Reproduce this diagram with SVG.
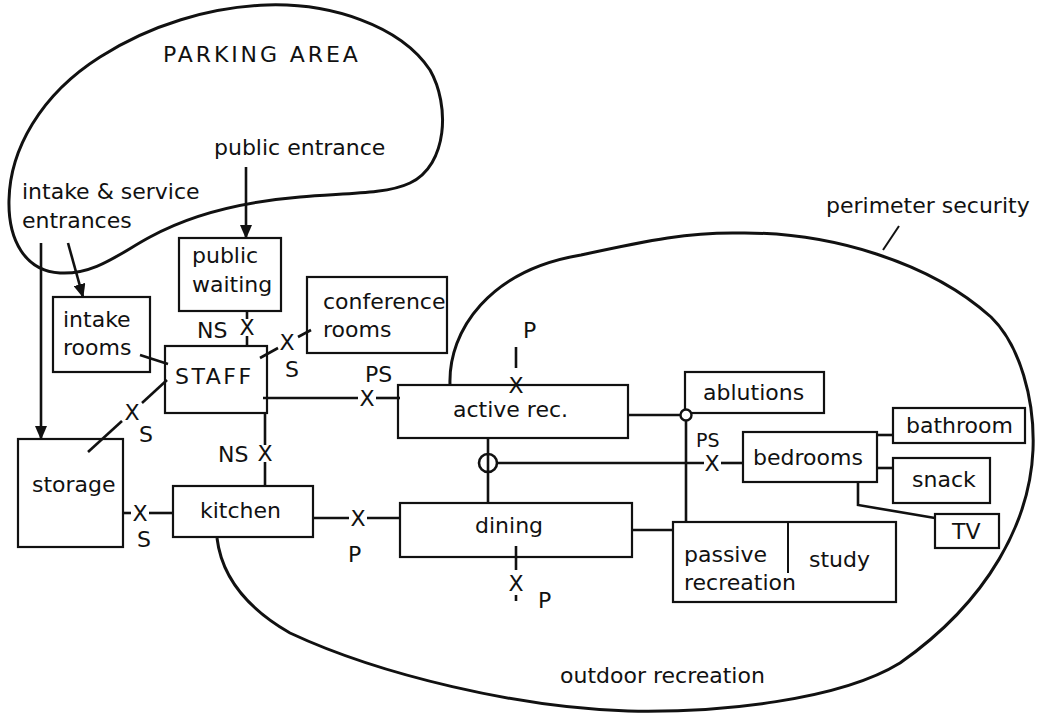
<svg xmlns="http://www.w3.org/2000/svg" width="1037" height="715" viewBox="0 0 1037 715">
<style>
  text { font-family: "DejaVu Sans", "Liberation Sans", sans-serif; font-size: 22px; fill: #111; }
  .box { fill: #fff; stroke: #111; stroke-width: 2.2; }
  .zone { fill: none; stroke: #111; stroke-width: 3; }
  .ln { fill: none; stroke: #111; stroke-width: 2.6; }
  .thin { fill: none; stroke: #111; stroke-width: 2; }
  .x { font-size: 22px; text-anchor: middle; }
  .lbl { font-size: 22px; }
  .sm { font-size: 19px; }
</style>
<defs>
  <marker id="arr" markerUnits="userSpaceOnUse" markerWidth="14" markerHeight="12" refX="13" refY="6" orient="auto">
    <path d="M0,0 L14,6 L0,12 Z" fill="#111"/>
  </marker>
</defs>
<rect width="1037" height="715" fill="#fff"/>

<g id="zones">
  <path id="parking-area" class="zone" d="M267,5 C330,3 400,25 430,70 C450,105 448,165 410,183 C385,195 340,193 300,197 C240,202 190,215 150,237 C120,253 95,275 60,273 C25,271 8,240 9,200 C10,150 40,95 100,57 C150,25 210,7 267,5 Z"/>
  <path id="perimeter" class="zone" d="M450,385 C448,330 490,270 581,255 C650,240 690,232 740,233 C830,232 930,262 991,317 C1020,345 1035,400 1033,450 C1030,520 990,600 900,663 C840,700 720,713 628,711 C520,708 380,675 290,633 C250,610 222,580 217,538"/>
  <line class="thin" x1="883" y1="250" x2="899" y2="226" stroke-width="2.4"/>
  <text x="163" y="62" font-size="21" letter-spacing="2.9">PARKING AREA</text>
  <text x="214" y="155">public entrance</text>
  <text x="22" y="199">intake &amp; service</text>
  <text x="22" y="228">entrances</text>
  <text x="826" y="213">perimeter security</text>
  <text x="560" y="683">outdoor recreation</text>
</g>

<g id="public-waiting"><rect class="box" x="179" y="238" width="102" height="73"/><text x="192" y="263">public</text><text x="192" y="292">waiting</text></g>
<g id="intake-rooms"><rect class="box" x="53" y="297" width="97" height="75"/><text x="63" y="327">intake</text><text x="63" y="355">rooms</text></g>
<g id="conference-rooms"><rect class="box" x="307" y="277" width="140" height="76"/><text x="323" y="309">conference</text><text x="323" y="337">rooms</text></g>
<g id="staff"><rect class="box" x="165" y="346" width="102" height="67"/><text x="175" y="384" font-size="23" letter-spacing="2.5">STAFF</text></g>
<g id="storage"><rect class="box" x="18" y="439" width="105" height="108"/><text x="32" y="492">storage</text></g>
<g id="kitchen"><rect class="box" x="173" y="486" width="140" height="51"/><text x="200" y="518">kitchen</text></g>
<g id="active-rec"><rect class="box" x="398" y="385" width="230" height="53"/><text x="453" y="417">active rec.</text></g>
<g id="dining"><rect class="box" x="400" y="503" width="232" height="54"/><text x="475" y="533">dining</text></g>
<g id="ablutions"><rect class="box" x="685" y="372" width="139" height="41"/><text x="703" y="400">ablutions</text></g>
<g id="bedrooms"><rect class="box" x="743" y="432" width="134" height="50"/><text x="753" y="465">bedrooms</text></g>
<g id="bathroom"><rect class="box" x="893" y="408" width="132" height="35"/><text x="906" y="433">bathroom</text></g>
<g id="snack"><rect class="box" x="893" y="458" width="97" height="45"/><text x="912" y="487">snack</text></g>
<g id="tv"><rect class="box" x="935" y="514" width="64" height="34"/><text x="952" y="539">TV</text></g>
<g id="passive-recreation-study"><rect class="box" x="673" y="522" width="223" height="80"/><line class="thin" x1="788" y1="522" x2="788" y2="573"/><text x="684" y="562">passive</text><text x="684" y="590">recreation</text><text x="809" y="567">study</text></g>

<g id="connectors">
  <!-- entrances -->
  <line class="ln" x1="246" y1="167" x2="246" y2="238" marker-end="url(#arr)"/>
  <line class="ln" x1="68" y1="243" x2="83" y2="297" marker-end="url(#arr)"/>
  <line class="ln" x1="41" y1="243" x2="41" y2="439" marker-end="url(#arr)"/>
  <!-- intake rooms to staff -->
  <line class="ln" x1="140" y1="355" x2="168" y2="364"/>
  <!-- public waiting to staff NS -->
  <line class="ln" x1="247" y1="311" x2="247" y2="319"/>
  <line class="ln" x1="247" y1="336" x2="247" y2="346"/>
  <text class="x" x="247" y="335">X</text>
  <text class="lbl" x="197" y="338">NS</text>
  <!-- staff to conference S -->
  <line class="ln" x1="260" y1="358" x2="278" y2="348"/>
  <line class="ln" x1="298" y1="337" x2="311" y2="330"/>
  <text class="x" x="287" y="350">X</text>
  <text class="lbl" x="285" y="377">S</text>
  <!-- staff to active rec PS -->
  <line class="ln" x1="263" y1="398" x2="358" y2="398"/>
  <line class="ln" x1="376" y1="398" x2="400" y2="398"/>
  <text class="x" x="367" y="406">X</text>
  <text class="lbl" x="365" y="382">PS</text>
  <!-- staff to storage S -->
  <line class="ln" x1="167" y1="380" x2="142" y2="403"/>
  <line class="ln" x1="122" y1="421" x2="88" y2="452"/>
  <text class="x" x="132" y="420">X</text>
  <text class="lbl" x="139" y="442">S</text>
  <!-- staff to kitchen NS -->
  <line class="ln" x1="265" y1="413" x2="265" y2="445"/>
  <line class="ln" x1="265" y1="462" x2="265" y2="486"/>
  <text class="x" x="265" y="461">X</text>
  <text class="lbl" x="218" y="462">NS</text>
  <!-- storage to kitchen S -->
  <line class="ln" x1="123" y1="513" x2="131" y2="513"/>
  <line class="ln" x1="149" y1="513" x2="174" y2="513"/>
  <text class="x" x="140" y="521">X</text>
  <text class="lbl" x="137" y="547">S</text>
  <!-- kitchen to dining P -->
  <line class="ln" x1="313" y1="518" x2="349" y2="518"/>
  <line class="ln" x1="367" y1="518" x2="401" y2="518"/>
  <text class="x" x="358" y="526">X</text>
  <text class="lbl" x="348" y="562">P</text>
  <!-- active rec top P -->
  <line class="ln" x1="516" y1="347" x2="516" y2="368"/>
  <text class="x" x="516" y="393">X</text>
  <text class="lbl" x="523" y="338">P</text>
  <!-- dining bottom P -->
  <line class="ln" x1="516" y1="546" x2="516" y2="570"/>
  <line class="ln" x1="516" y1="595" x2="516" y2="601"/>
  <text class="x" x="516" y="591">X</text>
  <text class="lbl" x="538" y="608">P</text>
  <!-- active rec to dining with circle -->
  <line class="ln" x1="488" y1="438" x2="488" y2="503"/>
  <circle cx="488" cy="463" r="9" fill="none" stroke="#111" stroke-width="2.6"/>
  <line class="ln" x1="497" y1="463" x2="704" y2="463"/>
  <line class="ln" x1="721" y1="463" x2="744" y2="463"/>
  <text class="x" x="712" y="471">X</text>
  <text class="sm" x="696" y="447">PS</text>
  <!-- active rec to ablutions / passive -->
  <line class="ln" x1="628" y1="415" x2="681" y2="415"/>
  <circle cx="686" cy="415" r="5.5" fill="#fff" stroke="#111" stroke-width="2.4"/>
  <line class="ln" x1="686" y1="420.5" x2="686" y2="522"/>
  <!-- dining to passive -->
  <line class="ln" x1="632" y1="530" x2="673" y2="530"/>
  <!-- bedrooms to services -->
  <line class="ln" x1="877" y1="435" x2="893" y2="435"/>
  <line class="ln" x1="877" y1="468" x2="893" y2="468"/>
  <polyline class="ln" points="858,482 858,505 935,518"/>
</g>
</svg>
